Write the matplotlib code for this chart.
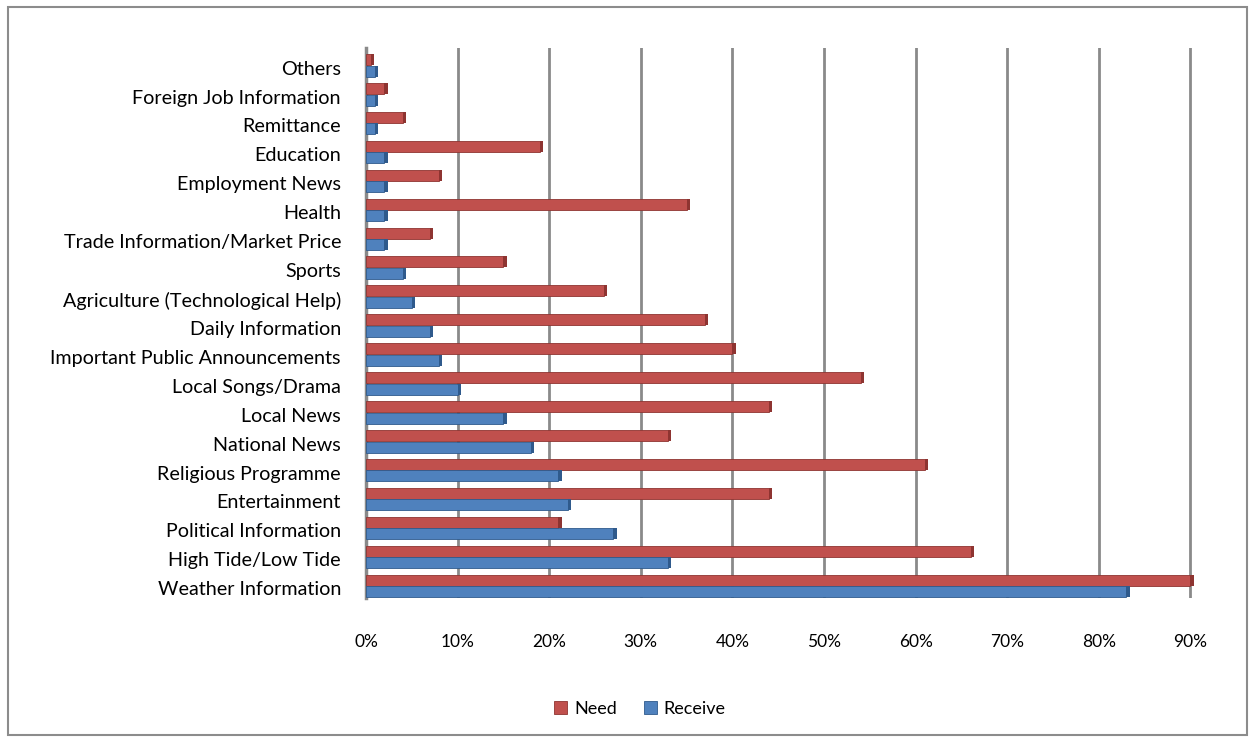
import matplotlib.pyplot as plt
import numpy as np
from matplotlib.patches import Rectangle

plt.rcParams['font.family'] = ['Lato', 'DejaVu Sans']

# categories from bottom to top
categories = ['Weather Information', 'High Tide/Low Tide', 'Political Information',
              'Entertainment', 'Religious Programme', 'National News', 'Local News',
              'Local Songs/Drama', 'Important Public Announcements', 'Daily Information',
              'Agriculture (Technological Help)', 'Sports', 'Trade Information/Market Price',
              'Health', 'Employment News', 'Education', 'Remittance',
              'Foreign Job Information', 'Others']
need = [90, 66, 21, 44, 61, 33, 44, 54, 40, 37, 26, 15, 7, 35, 8, 19, 4, 2, 0.5]
receive = [83, 33, 27, 22, 21, 18, 15, 10, 8, 7, 5, 4, 2, 2, 2, 2, 1, 1, 1]
xticks = [0, 10, 20, 30, 40, 50, 60, 70, 80, 90]

red, red_dark = '#C0504D', '#8E3431'
blue, blue_dark = '#4F81BD', '#2F5A8C'

fig = plt.figure(figsize=(12.55, 7.42), dpi=100)
fig.patches.append(Rectangle((8 / 1255, 7 / 742), 1239 / 1255, 728 / 742,
                             transform=fig.transFigure, fill=False,
                             edgecolor='#8c8c8c', linewidth=1.5))

ax = fig.add_axes([366 / 1255, 1 - 598 / 742, 829 / 1255, 550 / 742])

y = np.arange(len(categories))
h = 0.38
ax.barh(y + 0.2, need, height=h, color=red, edgecolor=red_dark, linewidth=0.6, zorder=3, label='Need')
ax.barh(y - 0.2, receive, height=h, color=blue, edgecolor=blue_dark, linewidth=0.6, zorder=3, label='Receive')
# darker end caps for a bit of 3D look
ax.barh(y + 0.2, 0.35, left=need, height=h, color=red_dark, linewidth=0, zorder=3)
ax.barh(y - 0.2, 0.35, left=receive, height=h, color=blue_dark, linewidth=0, zorder=3)

ax.set_xlim(0, 90.5)
ax.set_ylim(-0.42, 18.6)
ax.set_xticks(xticks)
ax.set_xticklabels([f'{v}%' for v in xticks], fontsize=12.5)
ax.set_yticks(y - 0.08)
ax.set_yticklabels(categories, fontsize=14.2)
ax.tick_params(axis='x', length=0, pad=26)
ax.tick_params(axis='y', length=0, pad=18)
ax.grid(axis='x', color='#8a8a8a', linewidth=2, zorder=0)
for s in ['top', 'right', 'bottom']:
    ax.spines[s].set_visible(False)
ax.spines['left'].set_color('#8a8a8a')
ax.spines['left'].set_linewidth(2.5)

ax.legend(loc='center', bbox_to_anchor=(640 / 1255, 1 - 709 / 742),
          bbox_transform=fig.transFigure, ncol=2, frameon=False, fontsize=13,
          handlelength=0.7, handleheight=0.7, handletextpad=0.4, columnspacing=1.5)

fig.savefig('out.png', dpi=100)
